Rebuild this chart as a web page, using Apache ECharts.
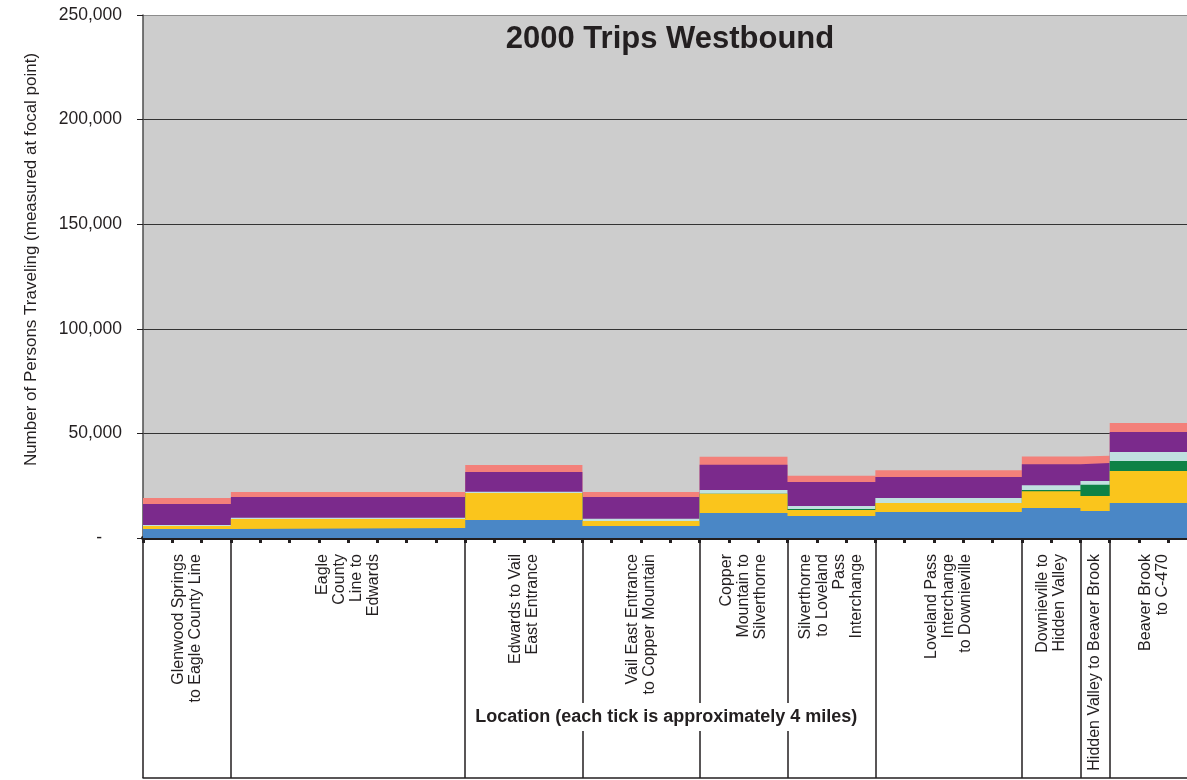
<!DOCTYPE html>
<html>
<head>
<meta charset="utf-8">
<title>2000 Trips Westbound</title>
<script src="https://cdn.jsdelivr.net/npm/echarts@6.0.0/dist/echarts.min.js"></script>
<style>
  html, body { margin: 0; padding: 0; background: #ffffff; }
  #chart { width: 1187px; height: 780px; }
</style>
</head>
<body>
<div id="chart"></div>
<script>
// Corridor segment boundaries in miles (each axis tick is 4 miles)
const boundaries = [0, 12, 44, 60, 76, 88, 100, 120, 128, 132, 144];

const segmentNames = [
  'Glenwood Springs\nto Eagle County Line',
  'Eagle\nCounty\nLine to\nEdwards',
  'Edwards to Vail\nEast Entrance',
  'Vail East Entrance\nto Copper Mountain',
  'Copper\nMountain to\nSilverthorne',
  'Silverthorne\nto Loveland\nPass\nInterchange',
  'Loveland Pass\nInterchange\nto Downieville',
  'Downieville to\nHidden Valley',
  'Hidden Valley to Beaver Brook',
  'Beaver Brook\nto C-470'
];

// Persons traveling per segment, one array per stacked layer (bottom to top)
const blueTrips   = [4300, 4800, 8600, 5700, 12000, 10500, 12400, 14300, 12900, 16700];
const yellowTrips = [1400, 4300, 12900, 2400, 9100, 2900, 4300, 8100, 7200, 15300];
const greenTrips  = [0, 0, 0, 0, 0, 500, 0, 600, 5300, 4800];
const cyanTrips   = [500, 600, 600, 1100, 1900, 1400, 2400, 2200, 1900, 4300];
const purpleTrips = [10000, 9900, 9400, 10400, 12000, 11500, 10000, 10000, 8600, 9600];
const salmonTrips = [2900, 2400, 3400, 2400, 3800, 2900, 3300, 3800, 3400, 4300];

const yTicks = [0, 50000, 100000, 150000, 200000, 250000];

const FONT = '"Liberation Sans", Arial, Helvetica, sans-serif';
const INK = '#231f20';

const layers = [
  { name: 'Blue',   color: '#4a87c6', values: blueTrips },
  { name: 'Yellow', color: '#fac51c', values: yellowTrips },
  { name: 'Green',  color: '#0e8246', values: greenTrips },
  { name: 'Cyan',   color: '#c0e1df', values: cyanTrips },
  { name: 'Purple', color: '#7b2a8c', values: purpleTrips },
  { name: 'Salmon', color: '#f3807a', values: salmonTrips }
];

const midpoints = segmentNames.map((_, i) => (boundaries[i] + boundaries[i + 1]) / 2);

// Running totals so each layer's top edge sits on the one below it
const cumulative = [];
layers.forEach((layer, li) => {
  cumulative.push(layer.values.map((v, i) => v + (li > 0 ? cumulative[li - 1][i] : 0)));
});

function stepPoints(values) {
  const pts = values.map((v, i) => [boundaries[i], v]);
  pts.push([boundaries[boundaries.length - 1], values[values.length - 1]]);
  return pts;
}

// Draw the tallest total first so lower layers paint over it
const series = layers.map((layer, li) => ({ layer, li })).reverse().map(({ layer, li }) => ({
  type: 'line',
  name: layer.name,
  step: 'end',
  symbol: 'none',
  showSymbol: false,
  silent: true,
  lineStyle: { width: 0, color: layer.color },
  itemStyle: { color: layer.color },
  areaStyle: { color: layer.color, opacity: 1 },
  data: stepPoints(cumulative[li])
}));

const xMin = boundaries[0];
const xMax = boundaries[boundaries.length - 1];

const chart = echarts.init(document.getElementById('chart'), null, { renderer: 'canvas' });
chart.setOption({
  animation: false,
  backgroundColor: '#ffffff',
  title: {
    text: '2000 Trips Westbound',
    left: 670,
    top: 24,
    padding: 0,
    textAlign: 'center',
    textStyle: { fontFamily: FONT, fontSize: 31, fontWeight: 'bold', color: INK }
  },
  grid: {
    left: 143,
    right: -10.6,
    top: 15,
    bottom: 242,
    show: true,
    backgroundColor: '#cdcdcd',
    borderWidth: 0,
    containLabel: false,
    outerBoundsMode: 'none'
  },
  xAxis: [
    {
      // Mile ticks along the plot floor
      type: 'value', min: xMin, max: xMax, interval: 4, position: 'bottom',
      axisLine: { show: true, onZero: false, lineStyle: { color: INK, width: 4 } },
      axisTick: { show: true, length: 5, lineStyle: { color: INK, width: 3 } },
      axisLabel: { show: false },
      splitLine: { show: false }
    },
    {
      // Segment dividers running down through the name table
      type: 'value', min: xMin, max: xMax, position: 'bottom',
      axisLine: { show: false },
      axisTick: { show: true, customValues: boundaries, length: 240, lineStyle: { color: INK, width: 1.5 } },
      axisLabel: { show: false },
      splitLine: { show: false }
    },
    {
      // Segment names and the axis title, drawn over the dividers
      type: 'value', min: xMin, max: xMax, position: 'bottom', z: 3,
      axisLine: { show: false },
      axisTick: { show: false },
      axisLabel: {
        show: true,
        customValues: midpoints,
        formatter: (v) => segmentNames[midpoints.indexOf(v)] || '',
        rotate: 90,
        margin: 16,
        fontFamily: FONT,
        fontSize: 16,
        lineHeight: 17,
        color: INK
      },
      splitLine: { show: false },
      name: 'Location (each tick is approximately 4 miles)',
      nameLocation: 'middle',
      nameGap: 165,
      nameMoveOverlap: false,
      nameTextStyle: {
        fontFamily: FONT, fontSize: 18, fontWeight: 'bold', color: INK,
        backgroundColor: '#ffffff', padding: [5, 8, 5, 0]
      }
    },
    {
      // Bottom rule of the segment table
      type: 'value', min: xMin, max: xMax, position: 'bottom', offset: 240,
      axisLine: { show: true, onZero: false, lineStyle: { color: INK, width: 1.5 } },
      axisTick: { show: false },
      axisLabel: { show: false },
      splitLine: { show: false }
    }
  ],
  yAxis: {
    type: 'value',
    min: yTicks[0],
    max: yTicks[yTicks.length - 1],
    interval: yTicks[1] - yTicks[0],
    axisLine: { show: true, lineStyle: { color: '#4d4d4d', width: 1.5 } },
    axisTick: { show: true, length: 6, lineStyle: { color: INK, width: 1 } },
    axisLabel: {
      margin: 21,
      fontFamily: FONT,
      fontSize: 17.5,
      color: INK,
      formatter: (v) => v === 0 ? '{z|-}' : v.toLocaleString('en-US'),
      rich: { z: { fontFamily: FONT, fontSize: 17.5, color: INK, padding: [0, 20, 0, 0] } }
    },
    splitLine: {
      show: true,
      lineStyle: { color: ['#333333', '#333333', '#333333', '#333333', '#333333', '#8c8c8c'], width: 1.2 }
    },
    name: 'Number of Persons Traveling (measured at focal point)',
    nameLocation: 'middle',
    nameGap: 103,
    nameMoveOverlap: false,
    nameTextStyle: { fontFamily: FONT, fontSize: 17, color: INK, padding: [0, 0, 0, 34] }
  },
  series: series
});
</script>
</body>
</html>
